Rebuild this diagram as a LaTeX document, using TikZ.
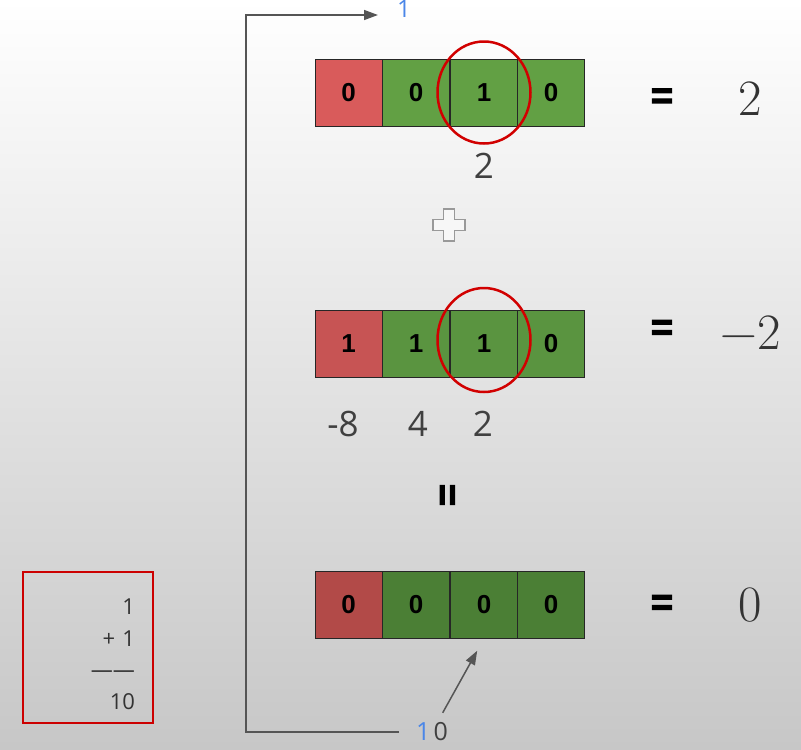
\documentclass[tikz,border=0pt]{standalone}
\usepackage{fontspec}
\newfontfamily\cellfont{Liberation Sans}
\newfontfamily\slidefont{Open Sans}
\newfontfamily\eqfont{Liberation Sans Bold}[FakeBold=3]
\usetikzlibrary{arrows.meta}

\definecolor{redA}{HTML}{D95B5B}
\definecolor{greenA}{HTML}{62A044}
\definecolor{redB}{HTML}{C75454}
\definecolor{greenB}{HTML}{5A9440}
\definecolor{redC}{HTML}{B24A48}
\definecolor{greenC}{HTML}{4B7F35}
\definecolor{ringred}{HTML}{D10000}
\definecolor{sumred}{HTML}{CC0000}
\definecolor{bitblue}{HTML}{4A86E8}
\definecolor{framegray}{HTML}{555555}

\begin{document}
\begin{tikzpicture} [x=1pt, y=-1pt]
\tikzstyle{cell}=[draw=black!85, line width=1pt, minimum size=67pt, inner sep=0pt, font=\fontsize{26}{30}\selectfont\cellfont\bfseries];
\tikzstyle{ring}=[draw=ringred, line width=2.5pt];
\tikzstyle{weight}=[text=black!75, font=\fontsize{35}{40}\selectfont\slidefont];
\tikzstyle{eqsign}=[inner sep=0pt, font=\fontsize{38}{42}\selectfont\eqfont];
\tikzstyle{value}=[text=black!80, inner sep=0pt, font=\fontsize{51}{56}\selectfont\rmfamily];
\tikzstyle{frame}=[draw=framegray, line width=1.5pt, -{Triangle[length=14pt, width=10pt]}];
\tikzstyle{sumbox}=[draw=sumred, line width=2.5pt, minimum width=130pt, minimum height=151pt, inner sep=0pt];
\tikzstyle{sumtext}=[text width=94pt, align=right, inner sep=0pt, text=black!80, font=\fontsize{22}{31.5}\selectfont\slidefont];
\useasboundingbox (0,0) rectangle (801,750);
\shade [top color=white, middle color=black!8, bottom color=black!22] (0,0) rectangle (801,750);
% first row: 2
\node [cell, fill=redA] (a0) at (348.5, 92.5) {0};
\node [cell, fill=greenA] (a1) at (416, 92.5) {0};
\node [cell, fill=greenA] (a2) at (484, 92.5) {1};
\node [cell, fill=greenA] (a3) at (551, 92.5) {0};
% second row: -2
\node [cell, fill=redB] (b0) at (348.5, 343.5) {1};
\node [cell, fill=greenB] (b1) at (416, 343.5) {1};
\node [cell, fill=greenB] (b2) at (484, 343.5) {1};
\node [cell, fill=greenB] (b3) at (551, 343.5) {0};
% sum
\node [cell, fill=redC] (c0) at (348.5, 604.5) {0};
\node [cell, fill=greenC] (c1) at (416, 604.5) {0};
\node [cell, fill=greenC] (c2) at (484, 604.5) {0};
\node [cell, fill=greenC] (c3) at (551, 604.5) {0};
\draw [ring] (a2) ellipse [x radius=46.5pt, y radius=51pt];
\draw [ring] ([yshift=3.5pt]b2.center) ellipse [x radius=46.5pt, y radius=52pt];
\node [weight] (w1) at (484, 166) {2};
\node [weight] (w2) at (343, 424) {-8};
\node [weight] (w3) at (418, 424) {4};
\node [weight] (w4) at (483, 424) {2};
\node [eqsign] (e1) at (662, 98.5) {=};
\node [eqsign] (e2) at (662, 330) {=};
\node [eqsign] (e3) at (662, 605) {=};
\node [eqsign, rotate=90] (e4) at (450, 495) {=};
\node [value] (v1) at (750, 98.5) {2};
\node [value] (v2) at (751, 333) {−2};
\node [value] (v3) at (750, 605) {0};
\draw [draw=black!40, fill=black!3, line width=1.5pt] (443.5,209) -- (454.5,209) -- (454.5,219.5) -- (465,219.5) -- (465,230.5) -- (454.5,230.5) -- (454.5,241) -- (443.5,241) -- (443.5,230.5) -- (433,230.5) -- (433,219.5) -- (443.5,219.5) -- cycle;
% carry
\node [text=bitblue, inner sep=0pt, font=\fontsize{24}{28}\selectfont\slidefont] (one) at (404, 9) {1};
\node [text=black!75, inner sep=0pt, font=\fontsize{25}{30}\selectfont\slidefont] (bot) at (432, 732) {\textcolor{bitblue}{1}\hspace{3pt}0};
\coordinate (corner) at (246, 15);
\coordinate (tip) at (378, 15);
\draw [frame, shorten <=17pt] (bot.west) -| (corner) -- (tip);
\draw [frame, shorten <=22pt, shorten >=14pt] (bot.center) -- (c2.south);
\node [sumbox] (sum) at (88, 647.5) {};
\node [sumtext] (sumtext) at (88, 654) {1\\+ 1\\——\\10};
\end{tikzpicture}
\end{document}
